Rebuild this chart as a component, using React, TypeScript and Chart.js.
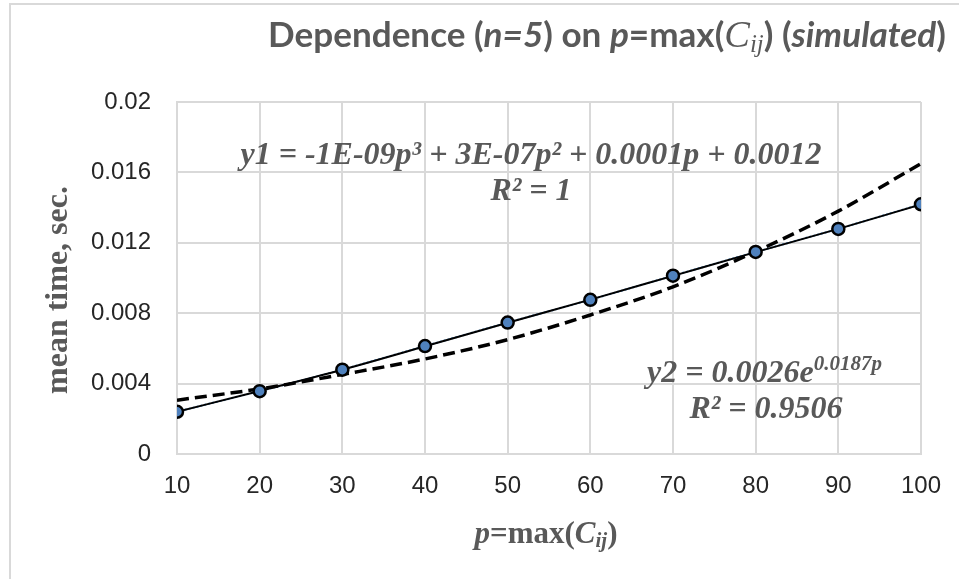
import React, { useEffect, useRef } from "react";
import { Chart, registerables } from "chart.js";

Chart.register(...registerables);

// ---- data ----
const pValues = [10, 20, 30, 40, 50, 60, 70, 80, 90, 100];
const meanTime = [0.0024, 0.00357, 0.00479, 0.00613, 0.00747, 0.00876, 0.01013, 0.01148, 0.01279, 0.01419];
const polyTrend = [0.0024, 0.00358, 0.00479, 0.00612, 0.00746, 0.00877, 0.01012, 0.01147, 0.01279, 0.01418];
const expTrend = [0.00306, 0.0037, 0.00452, 0.0054, 0.0065, 0.0079, 0.0095, 0.0115, 0.0138, 0.0165];
const xTickLabels = ["10", "20", "30", "40", "50", "60", "70", "80", "90", "100"];
const yTickLabels = ["0", "0.004", "0.008", "0.012", "0.016", "0.02"];

const GRAY = "#595959";
const SERIF = "'Liberation Serif', 'Times New Roman', serif";
const SANS = "Lato, 'Open Sans', sans-serif";
const TICKFONT = "'Liberation Sans', Arial, sans-serif";

type Run = { t: string; style: string; size: number; family: string; dy?: number };

function fontOf(r: Run, k: number) {
  return `${r.style} ${(r.size * k).toFixed(2)}px ${r.family}`;
}

function drawRuns(
  ctx: CanvasRenderingContext2D,
  runs: Run[],
  x: number,
  y: number,
  align: "left" | "center",
  fitWidth?: number
) {
  const measure = (k: number) => {
    let w = 0;
    for (const r of runs) {
      ctx.font = fontOf(r, k);
      w += ctx.measureText(r.t).width;
    }
    return w;
  };
  let k = 1;
  let total = measure(1);
  if (fitWidth) {
    k = fitWidth / total;
    total = measure(k);
  }
  let cx = align === "center" ? x - total / 2 : x;
  for (const r of runs) {
    ctx.font = fontOf(r, k);
    ctx.fillText(r.t, cx, y + (r.dy || 0) * k);
    cx += ctx.measureText(r.t).width;
  }
}

const textPlugin = {
  id: "textPlugin",
  beforeDraw(chart: any) {
    const ctx: CanvasRenderingContext2D = chart.ctx;
    ctx.save();
    ctx.fillStyle = "#ffffff";
    ctx.fillRect(0, 0, chart.width, chart.height);
    ctx.strokeStyle = "#d9d9d9";
    ctx.lineWidth = 2;
    ctx.strokeRect(10, 4, 2000, 2000);
    ctx.restore();
  },
  afterDraw(chart: any) {
    const ctx: CanvasRenderingContext2D = chart.ctx;
    ctx.save();
    ctx.fillStyle = GRAY;
    ctx.textBaseline = "alphabetic";

    // title
    const B = "bold";
    const BI = "italic bold";
    drawRuns(
      ctx,
      [
        { t: "Dependence (", style: B, size: 31, family: SANS },
        { t: "n=5", style: BI, size: 31, family: SANS },
        { t: ") on ", style: B, size: 31, family: SANS },
        { t: "p", style: BI, size: 31, family: SANS },
        { t: "=max(", style: B, size: 31, family: SANS },
        { t: "C", style: "italic", size: 34, family: SERIF },
        { t: "ij", style: "italic", size: 22, family: SERIF, dy: 4 },
        { t: ") (", style: B, size: 31, family: SANS },
        { t: "simulated", style: BI, size: 31, family: SANS },
        { t: ")", style: B, size: 31, family: SANS },
      ],
      607,
      47,
      "center",
      678
    );

    // trendline equations
    const eq = (t: string): Run => ({ t, style: BI, size: 32, family: SERIF });
    drawRuns(ctx, [eq("y1 = -1E-09p³ + 3E-07p² + 0.0001p + 0.0012")], 531, 164, "center");
    drawRuns(ctx, [eq("R² = 1")], 531, 200, "center");
    drawRuns(
      ctx,
      [eq("y2 = 0.0026e"), { t: "0.0187p", style: BI, size: 21, family: SERIF, dy: -12 }],
      647,
      382,
      "left"
    );
    drawRuns(ctx, [eq("R² = 0.9506")], 766, 418, "center");

    // x axis title
    drawRuns(
      ctx,
      [
        { t: "p", style: BI, size: 31, family: SERIF },
        { t: "=max(", style: B, size: 31, family: SERIF },
        { t: "C", style: BI, size: 31, family: SERIF },
        { t: "ij", style: BI, size: 21, family: SERIF, dy: 4 },
        { t: ")", style: B, size: 31, family: SERIF },
      ],
      546,
      543,
      "center"
    );

    // y axis title
    ctx.translate(67, 290);
    ctx.rotate(-Math.PI / 2);
    drawRuns(ctx, [{ t: "mean time, sec.", style: B, size: 32, family: SERIF }], 0, 0, "center");
    ctx.restore();
  },
};

export default function App() {
  const ref = useRef<HTMLCanvasElement>(null);

  useEffect(() => {
    if (!ref.current) return;
    const pts = (arr: number[]) => pValues.map((p, i) => ({ x: p, y: arr[i] }));
    const chart = new Chart(ref.current, {
      type: "scatter",
      data: {
        datasets: [
          {
            label: "points",
            data: pts(meanTime),
            showLine: false,
            pointRadius: 6,
            pointHoverRadius: 6,
            pointBackgroundColor: "#4f81bd",
            pointBorderColor: "#000000",
            pointBorderWidth: 2.5,
            order: 0,
          },
          {
            label: "exp",
            data: pts(expTrend),
            showLine: true,
            borderColor: "#000000",
            borderWidth: 3.5,
            borderDash: [12, 6],
            cubicInterpolationMode: "monotone",
            pointRadius: 0,
            order: 1,
          },
          {
            label: "poly",
            data: pts(polyTrend),
            showLine: true,
            borderColor: "#000000",
            borderWidth: 2,
            cubicInterpolationMode: "monotone",
            pointRadius: 0,
            order: 2,
          },
          {
            label: "series",
            data: pts(meanTime),
            showLine: true,
            borderColor: "#5b9bd5",
            borderWidth: 2,
            borderDash: [2, 2],
            pointRadius: 0,
            order: 3,
          },
        ] as any,
      },
      options: {
        animation: false,
        responsive: false,
        layout: { padding: { left: 0, top: 102, right: 38, bottom: 0 } },
        plugins: {
          legend: { display: false },
          tooltip: { enabled: false },
          title: { display: false },
        },
        scales: {
          x: {
            type: "linear",
            min: 10,
            max: 100,
            ticks: {
              stepSize: 10,
              padding: 18,
              color: "#262626",
              font: { family: TICKFONT, size: 24 },
              callback: (v: any) => {
                const i = pValues.indexOf(Number(v));
                return i >= 0 ? xTickLabels[i] : "";
              },
            },
            grid: { color: "#d9d9d9", lineWidth: 2, drawTicks: false },
            border: { color: "#d9d9d9", width: 2 },
            afterFit: (s: any) => {
              s.height = 125;
            },
          },
          y: {
            type: "linear",
            min: 0,
            max: 0.02,
            ticks: {
              stepSize: 0.004,
              padding: 26,
              color: "#262626",
              font: { family: TICKFONT, size: 24 },
              callback: (_v: any, i: number) => yTickLabels[i] ?? "",
            },
            grid: { color: "#d9d9d9", lineWidth: 2, drawTicks: false },
            border: { color: "#d9d9d9", width: 2 },
            afterFit: (s: any) => {
              s.width = 177;
            },
          },
        },
      } as any,
      plugins: [textPlugin],
    });
    return () => chart.destroy();
  }, []);

  return (
    <div style={{ position: "fixed", left: 0, top: 0, width: 959, height: 579, background: "#fff" }}>
      <canvas ref={ref} width={959} height={579} style={{ display: "block" }} />
    </div>
  );
}
